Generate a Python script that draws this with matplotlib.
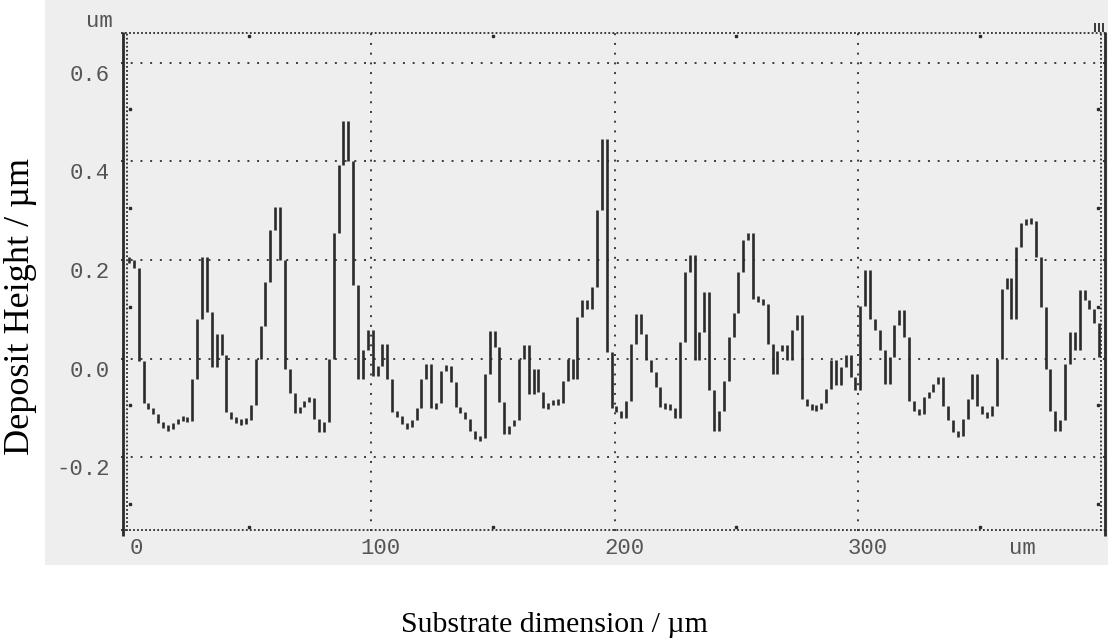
import numpy as np
import matplotlib
matplotlib.use("Agg")
import matplotlib.pyplot as plt
from matplotlib.patches import Rectangle

plt.rcParams["lines.scale_dashes"] = False

# ---- data -------------------------------------------------------------
x_start_um = 0.8          # position of first profile column (um)
x_step_um = 2.0           # column spacing (um)
height_um = [
    0.200, 0.185, -0.005, -0.090, -0.100, -0.112, -0.130, -0.137, -0.142, -0.132,
    -0.122, -0.120, -0.126, -0.041, 0.081, 0.206, 0.095, -0.017, 0.051, 0.007,
    -0.108, -0.122, -0.127, -0.128, -0.125, -0.093, 0.000, 0.066, 0.156, 0.261,
    0.307, 0.200, -0.020, -0.070, -0.110, -0.098, -0.085, -0.080, -0.122, -0.149,
    -0.129, 0.000, 0.254, 0.393, 0.481, 0.400, 0.149, -0.041, 0.017, 0.058,
    -0.034, -0.014, 0.031, -0.041, -0.108, -0.115, -0.132, -0.139, -0.125, -0.100,
    -0.041, -0.010, -0.100, -0.090, -0.024, -0.014, -0.047, -0.098, -0.108, -0.122,
    -0.146, -0.163, -0.160, -0.031, 0.056, 0.024, -0.088, -0.153, -0.136, -0.125,
    0.000, 0.027, -0.071, -0.020, -0.068, -0.100, -0.092, -0.085, -0.090, -0.044,
    0.000, -0.040, 0.085, 0.120, 0.100, 0.146, 0.302, 0.445, 0.014, -0.100,
    -0.105, -0.119, -0.085, 0.031, 0.090, 0.050, -0.003, -0.027, -0.058, -0.098,
    -0.095, -0.100, -0.119, 0.034, 0.176, 0.210, -0.003, 0.054, 0.136, -0.064,
    -0.146, -0.105, -0.044, 0.044, 0.092, 0.176, 0.240, 0.255, 0.122, 0.120,
    0.112, 0.031, -0.030, 0.015, 0.027, -0.002, 0.058, 0.088, -0.081, -0.095,
    -0.100, -0.100, -0.090, -0.062, -0.003, -0.054, -0.017, 0.007, -0.037, -0.064,
    0.108, 0.180, 0.081, 0.058, 0.017, -0.051, 0.003, 0.068, 0.098, 0.044,
    -0.085, -0.105, -0.112, -0.078, -0.068, -0.051, -0.036, -0.095, -0.125, -0.149,
    -0.156, -0.122, -0.081, -0.031, -0.095, -0.112, -0.115, -0.095, 0.000, 0.142,
    0.163, 0.081, 0.227, 0.275, 0.280, 0.280, 0.207, 0.105, -0.020, -0.105,
    -0.146, -0.125, -0.010, 0.054, 0.017, 0.139, 0.120, 0.100, 0.073, 0.003,
]
y_ticks = [0.6, 0.4, 0.2, 0.0, -0.2]
y_tick_labels = ["0.6", "0.4", "0.2", "0.0", "-0.2"]
x_ticks = [0, 100, 200, 300]
x_tick_labels = ["0", "100", "200", "300"]
x_minor = [50, 150, 250, 350]
y_minor = [0.5, 0.3, 0.1, -0.1, -0.3]
unit_label = "um"
x_title = "Substrate dimension / \u00b5m"
y_title = "Deposit Height / \u00b5m"

# ---- figure -----------------------------------------------------------
W, H = 1108, 643
fig = plt.figure(figsize=(W / 100, H / 100), dpi=100)
fig.patch.set_facecolor("white")
fig.patches.append(Rectangle((45 / W, 1 - 565 / H), 1 - 45 / W, 565 / H,
                             transform=fig.transFigure, facecolor="#eeeeee",
                             edgecolor="none", zorder=-10))

left_px, right_px, top_px, bot_px = 121, 1106, 31.7, 531
ax = fig.add_axes([left_px / W, 1 - bot_px / H, (right_px - left_px) / W,
                   (bot_px - top_px) / H])
ax.set_zorder(5)
ax.set_xlim(-2.46, 401.6)
ax.set_ylim(-0.349, 0.663)
ax.patch.set_visible(False)
for s in ax.spines.values():
    s.set_visible(False)
ax.set_xticks([])
ax.set_yticks([])

ink = "#2a2a2a"
grid_kw = dict(color="#3a3a3a", linewidth=1.4, dashes=(1.4, 5.6), zorder=1)
for yv in y_ticks:
    ax.axhline(yv, **grid_kw)
for xv in x_ticks[1:]:
    ax.axvline(xv, **grid_kw)

# frame: dotted top / bottom, solid + dotted left / right
frame_dots = dict(color="#3a3a3a", linewidth=1.4, dashes=(1.3, 1.6), zorder=1)
ax.axhline(0.660, **frame_dots)
ax.axhline(-0.346, **frame_dots)
ax.axvline(-0.2, **frame_dots)
ax.axvline(399.6, **frame_dots)
ax.plot([-1.8, -1.8], [-0.36, 0.663], color=ink, lw=2.0, solid_capstyle="butt",
        clip_on=False, zorder=2)
ax.plot([401.0, 401.0], [-0.36, 0.663], color=ink, lw=2.0, solid_capstyle="butt",
        clip_on=False, zorder=2)
ax.vlines([397.0, 398.6, 400.2], 0.663, 0.680, color=ink, lw=1.3, clip_on=False)

# small scale marks
mk = dict(ls="none", marker="s", ms=1.6, color=ink, clip_on=False, zorder=2)
ax.plot(np.full(len(y_minor), 1.3), np.array(y_minor) + 0.006, **mk)
ax.plot(np.full(len(y_minor), 398.2), np.array(y_minor) + 0.006, **mk)
ax.plot(x_minor, np.full(len(x_minor), 0.654), **mk)
ax.plot(x_minor, np.full(len(x_minor), -0.340), **mk)

# profile trace: each column drawn as a vertical stroke from previous level
h = np.asarray(height_um)
x = x_start_um + x_step_um * np.arange(len(h))
prev = np.concatenate([[h[0]], h[:-1]])
lo = np.minimum(prev, h)
hi = np.maximum(prev, h)
min_len = 0.012
mid = (lo + hi) / 2
short = (hi - lo) < min_len
lo = np.where(short, mid - min_len / 2, lo)
hi = np.where(short, mid + min_len / 2, hi)
ax.vlines(x, lo, hi, colors=ink, linewidth=1.9, capstyle="butt", zorder=3)

# instrument labels
lab_kw = dict(family="Liberation Mono", fontsize=16, color="#555555")
for yv, t in zip(y_ticks, y_tick_labels):
    ax.text(-7.0, yv - 0.004, t, ha="right", va="top", clip_on=False, **lab_kw)
for xv, t in zip(x_ticks, x_tick_labels):
    ax.text(xv + 4.0, -0.384, t, ha="center", va="center", clip_on=False, **lab_kw)
ax.text(367.5, -0.384, unit_label, ha="center", va="center", clip_on=False, **lab_kw)
ax.text(-11.5, 0.684, unit_label, ha="center", va="center", clip_on=False, **lab_kw)

# axis titles
fig.text(554 / W, 1 - 625 / H, x_title, ha="center", va="center",
         family="Liberation Serif", fontsize=21.5, color="black")
fig.text(21 / W, 1 - 306 / H, y_title, ha="center", va="center", rotation=90,
         family="Liberation Serif", fontsize=26, color="black")

fig.savefig("out.png", dpi=100)
